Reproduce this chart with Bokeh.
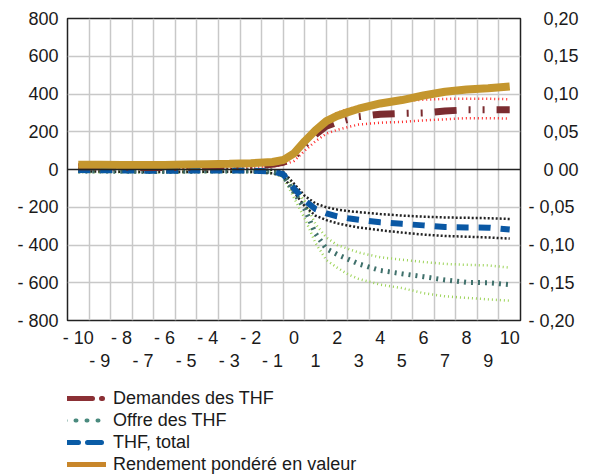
from bokeh.plotting import figure
from bokeh.layouts import column
from bokeh.models import Range1d, LinearAxis, FixedTicker, Span, Legend, LegendItem
from bokeh.embed import file_html
from bokeh.resources import INLINE

# ---- data ----
x = [-10, -9, -8, -7, -6, -5, -4, -3, -2, -1, -0.5, 0, 0.5, 1, 1.5, 2, 2.5, 3, 4, 5, 6, 7, 8, 9, 10]

# Rendement pondéré en valeur (right axis)
rendement = [0.0062, 0.0062, 0.006, 0.006, 0.006, 0.0065, 0.007, 0.0075, 0.0083, 0.010, 0.0125, 0.0213,
             0.0375, 0.052, 0.064, 0.071, 0.076, 0.0805, 0.0875, 0.092, 0.098, 0.103, 0.106, 0.1075, 0.110]

# Demandes des THF and band (left axis)
demandes = [15, 14, 12, 10, 10, 12, 14, 16, 20, 28, 38, 65, 130, 185, 230, 250, 265, 280, 293, 297, 300, 310, 316, 316, 316]
demandes_haut = [25, 25, 24, 24, 24, 26, 28, 30, 33, 40, 50, 90, 160, 220, 270, 300, 320, 335, 352, 362, 370, 374, 375, 375, 372]
demandes_bas = [5, 5, 4, 3, 3, 3, 4, 5, 8, 15, 25, 45, 100, 150, 190, 210, 225, 238, 248, 252, 260, 266, 272, 272, 270]

# THF, total and band
total = [-3, -4, -5, -6, -6, -6, -5, -5, -6, -10, -25, -100, -165, -210, -232, -248, -258, -266, -280, -288, -296, -305, -307, -308, -318]
total_haut = [5, 4, 3, 2, 2, 2, 3, 3, 2, -2, -12, -75, -140, -180, -200, -212, -220, -226, -236, -244, -250, -254, -256, -258, -262]
total_bas = [-10, -11, -12, -13, -13, -13, -12, -12, -13, -20, -35, -120, -195, -245, -268, -285, -297, -307, -322, -334, -345, -352, -356, -360, -366]

# Offre des THF and band
offre = [-8, -8, -9, -10, -10, -9, -8, -8, -7, -10, -30, -120, -210, -340, -420, -450, -475, -500, -535, -552, -568, -585, -598, -600, -610]
offre_haut = [-2, -2, -3, -3, -3, -3, -2, -2, -2, -5, -20, -90, -170, -290, -360, -400, -420, -440, -465, -478, -490, -500, -505, -508, -520]
offre_bas = [-14, -14, -15, -16, -16, -15, -14, -14, -14, -20, -40, -150, -260, -390, -480, -520, -555, -580, -610, -628, -655, -672, -680, -688, -695]

left_ticks = [-800, -600, -400, -200, 0, 200, 400, 600, 800]
left_labels = ["- 800", "- 600", "- 400", "- 200", "0", "200", "400", "600", "800"]
right_ticks = [-0.2, -0.15, -0.1, -0.05, 0, 0.05, 0.1, 0.15, 0.2]
right_labels = ["- 0,20", "- 0,15", "- 0,10", "- 0,05", "\u00a0\u00a0\u00a00 00",
                "\u00a0\u00a0\u00a00,05", "\u00a0\u00a0\u00a00,10", "\u00a0\u00a0\u00a00,15", "\u00a0\u00a0\u00a00,20"]
even_ticks = [-10, -8, -6, -4, -2, 0, 2, 4, 6, 8, 10]
odd_ticks = [-9, -7, -5, -3, -1, 1, 3, 5, 7, 9]

FONT = "Liberation Sans"
FS = "18px"

p = figure(frame_width=453, frame_height=302, x_range=Range1d(-10.5, 10.5), y_range=Range1d(-800, 800),
           output_backend="svg", toolbar_location=None,
           min_border_left=67, min_border_right=56, min_border_top=18, min_border_bottom=56)
p.extra_y_ranges = {"r": Range1d(-0.2, 0.2)}

p.outline_line_color = "#222222"
p.outline_line_width = 1.5
p.background_fill_color = "white"
p.border_fill_color = "white"

# grid
p.xgrid.ticker = FixedTicker(ticks=[t + 0.5 for t in range(-10, 10)])
p.ygrid.ticker = FixedTicker(ticks=[-600, -400, -200, 200, 400, 600])
for g in (p.xgrid, p.ygrid):
    g.grid_line_color = "#c8c8c8"
    g.grid_line_width = 1.5

def style_axis(ax, standoff):
    ax.axis_line_color = None
    ax.major_tick_line_color = None
    ax.minor_tick_line_color = None
    ax.major_tick_out = 0
    ax.major_tick_in = 0
    ax.minor_tick_out = 0
    ax.major_label_text_font = FONT
    ax.major_label_text_font_size = FS
    ax.major_label_text_color = "#1a1a1a"
    ax.major_label_standoff = standoff

# left axis
p.yaxis.ticker = FixedTicker(ticks=left_ticks)
p.yaxis.major_label_overrides = {t: l for t, l in zip(left_ticks, left_labels)}
style_axis(p.yaxis[0], 9)

# right axis
ax_r = LinearAxis(y_range_name="r", ticker=FixedTicker(ticks=right_ticks))
ax_r.major_label_overrides = {t: l for t, l in zip(right_ticks, right_labels)}
style_axis(ax_r, 8)
p.add_layout(ax_r, "right")

def xlab(t):
    return f"- {abs(t)}" if t < 0 else str(t)

# bottom axes (two rows)
p.xaxis.ticker = FixedTicker(ticks=even_ticks)
p.xaxis.major_label_overrides = {t: xlab(t) for t in even_ticks}
style_axis(p.xaxis[0], 7)
ax_b2 = LinearAxis(ticker=FixedTicker(ticks=odd_ticks))
ax_b2.major_label_overrides = {t: xlab(t) for t in odd_ticks}
style_axis(ax_b2, 0)
p.add_layout(ax_b2, "below")

p.add_layout(Span(location=0, dimension="width", line_color="#222222", line_width=1.5))

# bands
p.line(x, offre_haut, line_color="#9bd356", line_width=2.5, line_dash="1 3")
p.line(x, offre_bas, line_color="#9bd356", line_width=2.5, line_dash="1 3")
p.line(x, total_haut, line_color="#222222", line_width=2.5, line_dash="2 2")
p.line(x, total_bas, line_color="#222222", line_width=2.5, line_dash="2 2")
p.line(x, demandes_haut, line_color="#ff2a2a", line_width=2.5, line_dash="1 3")
p.line(x, demandes_bas, line_color="#ff2a2a", line_width=2.5, line_dash="1 3")

# main series
p.line(x, offre, line_color="#3f706b", line_width=5, line_dash="2 5")
p.line(x, total, line_color="#0a58a4", line_width=6, line_dash="12 10")
p.line(x, demandes, line_color="#7b2c30", line_width=7, line_dash="22 12 2 12 2 12")
p.line(x, rendement, y_range_name="r", line_color="#c4962e", line_width=8)

# ---- legend figure below ----
pl = figure(width=580, height=99, x_range=Range1d(0, 1), y_range=Range1d(0, 1),
            x_axis_location=None, y_axis_location=None, min_border=0,
            output_backend="svg", toolbar_location=None)
pl.outline_line_color = None
pl.grid.visible = False
pl.background_fill_color = "white"
pl.border_fill_color = "white"

l_dem = pl.line([0], [0], line_color="#8b3035", line_width=5, line_dash="28 9 1 30", line_cap="round")
l_dem.visible = False
l_off = pl.line([0], [0], line_color="#4a8a7e", line_width=4, line_dash="1 10", line_cap="round")
l_off.visible = False
l_tot = pl.line([0], [0], line_color="#0a5ca6", line_width=5, line_dash="14 9", line_cap="round")
l_tot.visible = False
l_ren = pl.line([0], [0], line_color="#c8862a", line_width=5, line_cap="round")
l_ren.visible = False

legend = Legend(items=[
    LegendItem(label="Demandes des THF", renderers=[l_dem]),
    LegendItem(label="Offre des THF", renderers=[l_off]),
    LegendItem(label="THF, total", renderers=[l_tot]),
    LegendItem(label="Rendement pondéré en valeur", renderers=[l_ren]),
], location=(-3, 0))
legend.label_text_font = FONT
legend.label_text_font_size = FS
legend.label_text_color = "#1a1a1a"
legend.glyph_width = 42
legend.glyph_height = 22
legend.label_height = 22
legend.label_standoff = 7
legend.spacing = 0
legend.padding = 0
legend.margin = 0
legend.border_line_color = None
legend.background_fill_alpha = 0
pl.add_layout(legend, "center")

layout = column(p, pl, spacing=0)
open("out.html", "w").write(file_html(layout, INLINE))
